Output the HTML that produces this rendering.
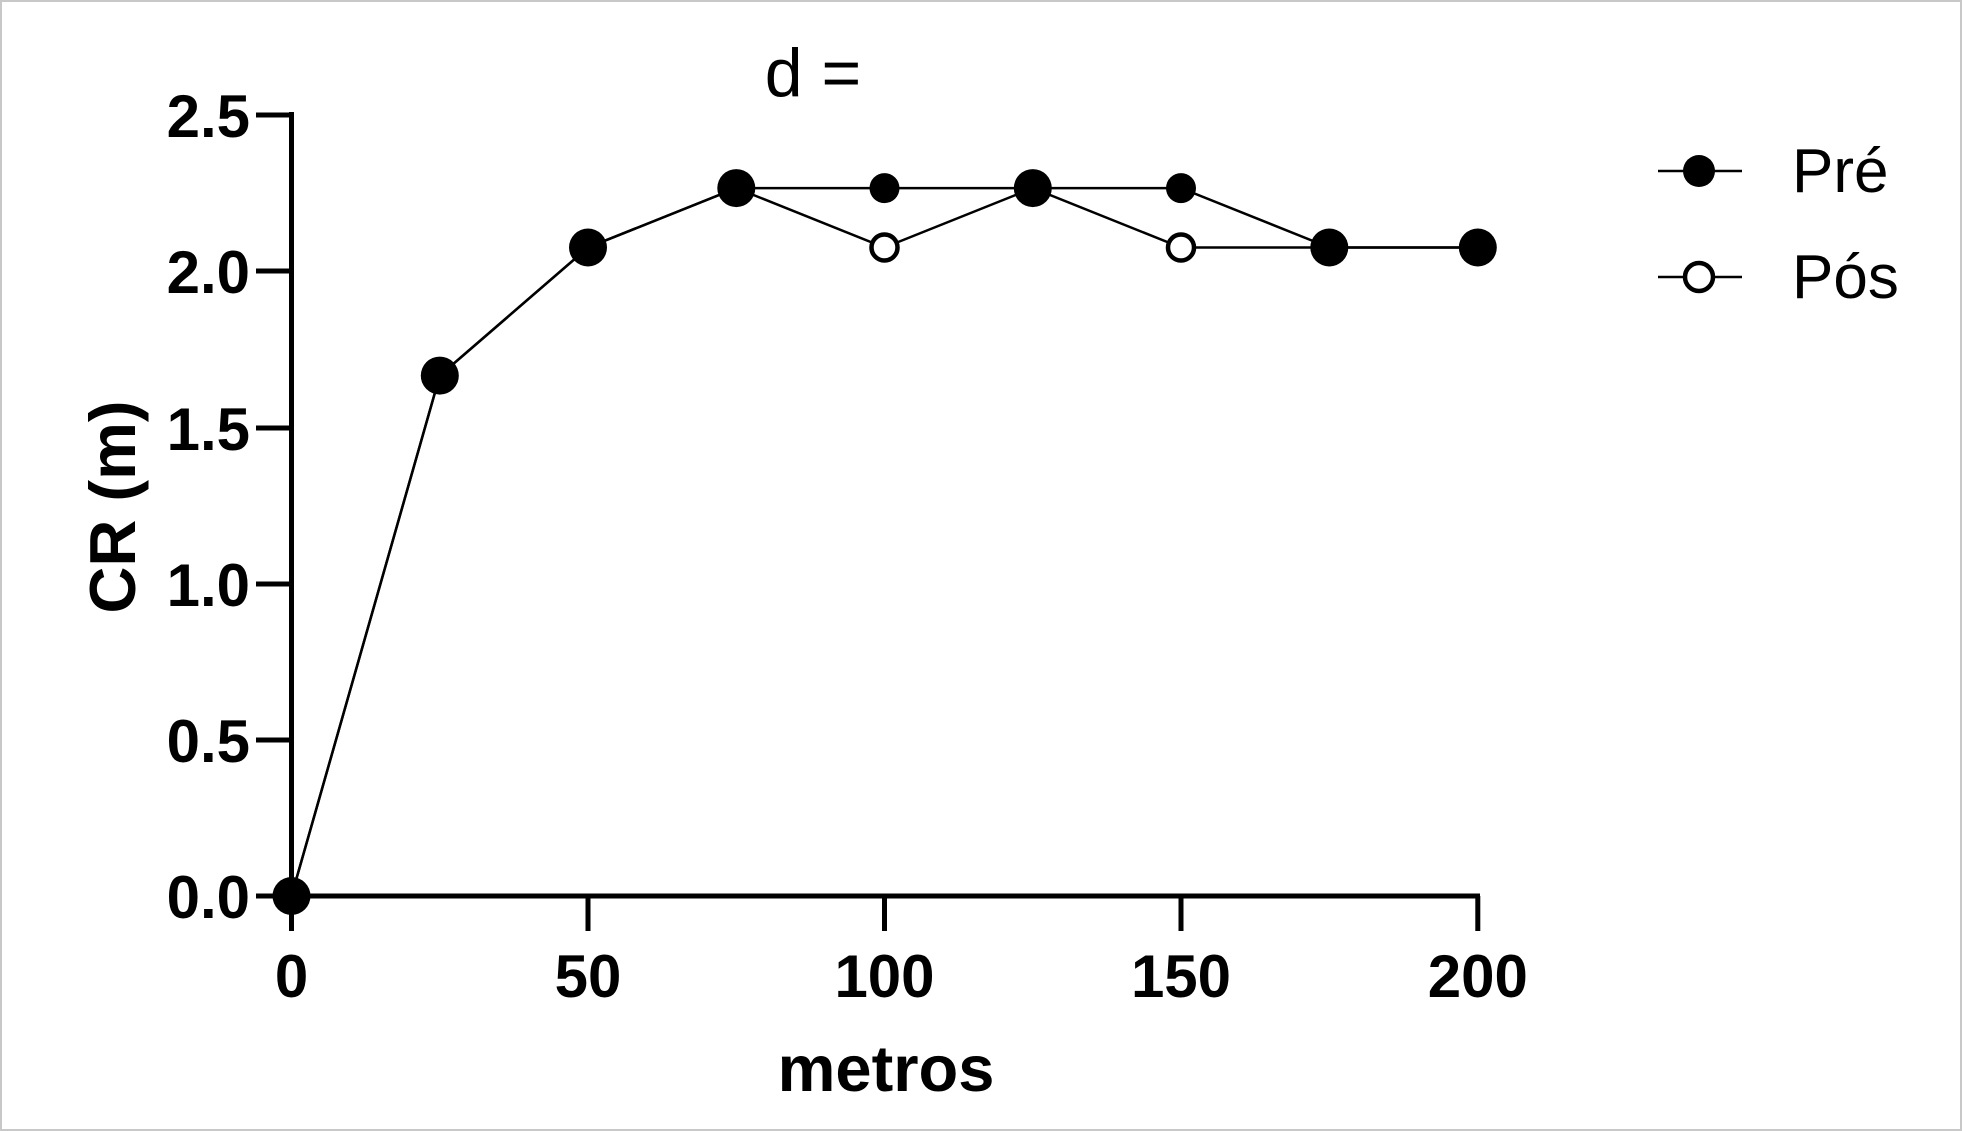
<!DOCTYPE html>
<html><head><style>body{margin:0;background:#fff}svg{display:block}</style></head><body>
<svg width="1962" height="1131" viewBox="0 0 1962 1131" xmlns="http://www.w3.org/2000/svg" font-family="Liberation Sans, Arial, sans-serif">
<rect x="1" y="1" width="1960" height="1129" fill="#fff" stroke="#c8c8c8" stroke-width="2"/>
<g stroke="#000" stroke-width="5" fill="none">
<line x1="291.5" y1="112" x2="291.5" y2="931"/>
<line x1="289" y1="896" x2="1480" y2="896"/>
<line x1="256" y1="115" x2="291.5" y2="115"/>
<line x1="256" y1="271" x2="291.5" y2="271"/>
<line x1="256" y1="428" x2="291.5" y2="428"/>
<line x1="256" y1="584" x2="291.5" y2="584"/>
<line x1="256" y1="740" x2="291.5" y2="740"/>
<line x1="256" y1="896" x2="291.5" y2="896"/>
<line x1="588" y1="896" x2="588" y2="931"/>
<line x1="884.5" y1="896" x2="884.5" y2="931"/>
<line x1="1181" y1="896" x2="1181" y2="931"/>
<line x1="1477.8" y1="896" x2="1477.8" y2="931"/>
</g>
<g font-weight="bold" font-size="60" text-anchor="end">
<text x="250" y="137">2.5</text>
<text x="250" y="293">2.0</text>
<text x="250" y="450">1.5</text>
<text x="250" y="606">1.0</text>
<text x="250" y="762">0.5</text>
<text x="250" y="918">0.0</text>
</g>
<g font-weight="bold" font-size="60" text-anchor="middle">
<text x="291.5" y="997">0</text>
<text x="588" y="997">50</text>
<text x="884.5" y="997">100</text>
<text x="1181" y="997">150</text>
<text x="1477.8" y="997">200</text>
<text x="886" y="1091" font-size="65">metros</text>
<text transform="translate(135,507) rotate(-90)" font-size="65">CR (m)</text>
</g>
<text x="813" y="96" font-size="68" text-anchor="middle">d =</text>
<g stroke="#000" stroke-width="2.5" fill="none">
<polyline points="291.5,896 439.8,375.6 588,247.5 736.3,188.1 884.5,188.1 1032.8,188.1 1181,188.1 1329.3,247.5 1477.8,247.5"/>
<polyline points="291.5,896 439.8,375.6 588,247.5 736.3,188.1 884.5,247.5 1032.8,188.1 1181,247.5 1329.3,247.5 1477.8,247.5"/>
<line x1="1658" y1="171" x2="1742" y2="171"/>
<line x1="1658" y1="277" x2="1742" y2="277"/>
</g>
<g fill="#000">
<circle cx="291.5" cy="896" r="19"/>
<circle cx="439.8" cy="375.6" r="19"/>
<circle cx="588" cy="247.5" r="19"/>
<circle cx="736.3" cy="188.1" r="19"/>
<circle cx="884.5" cy="188.1" r="15"/>
<circle cx="1032.8" cy="188.1" r="19"/>
<circle cx="1181" cy="188.1" r="15"/>
<circle cx="1329.3" cy="247.5" r="19"/>
<circle cx="1477.8" cy="247.5" r="19"/>
<circle cx="1699" cy="171" r="16"/>
</g>
<g fill="#fff" stroke="#000" stroke-width="4.5">
<circle cx="884.5" cy="247.5" r="13"/>
<circle cx="1181" cy="247.5" r="13"/>
<circle cx="1699" cy="277" r="14"/>
</g>
<text x="1792" y="192" font-size="62">Pré</text>
<text x="1792" y="298" font-size="62">Pós</text>
</svg>
</body></html>
